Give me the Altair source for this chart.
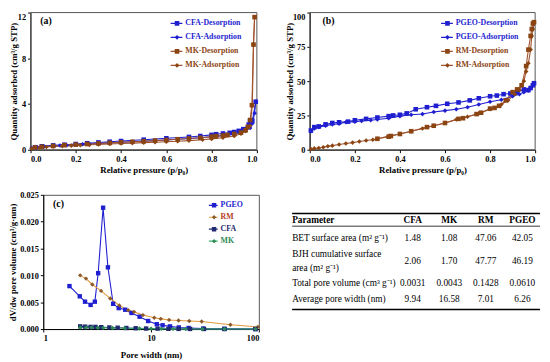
import altair as alt
import pandas as pd

FONT = "Liberation Serif"

# ---------------- panel (a) data ----------------
a_names = ["CFA-Desorption", "CFA-Adsorption", "MK-Desorption", "MK-Adsorption"]
cfa_des_p = [0.995, 0.98, 0.97, 0.964, 0.94, 0.92, 0.9, 0.88, 0.85, 0.82, 0.8, 0.75, 0.7, 0.6, 0.5, 0.4, 0.35, 0.3, 0.25, 0.2, 0.15, 0.1, 0.05, 0.02]
cfa_des_q = [4.2, 2.55, 2.5, 2.2, 1.8, 1.65, 1.55, 1.48, 1.42, 1.36, 1.3, 1.2, 1.12, 1.0, 0.88, 0.76, 0.7, 0.64, 0.57, 0.5, 0.44, 0.38, 0.3, 0.22]
cfa_ads_p = [0.005, 0.03, 0.06, 0.1, 0.13, 0.16, 0.2, 0.23, 0.26, 0.3, 0.35, 0.4, 0.45, 0.5, 0.55, 0.6, 0.65, 0.7, 0.75, 0.8, 0.85, 0.9, 0.93, 0.95, 0.97, 0.98, 0.99, 0.995]
cfa_ads_q = [0.15, 0.22, 0.28, 0.33, 0.37, 0.4, 0.45, 0.48, 0.51, 0.55, 0.6, 0.65, 0.7, 0.75, 0.8, 0.86, 0.92, 0.98, 1.05, 1.13, 1.22, 1.35, 1.5, 1.65, 1.9, 2.3, 3.2, 4.2]
mk_des_p = [0.99, 0.985, 0.978, 0.97, 0.96, 0.95, 0.93, 0.9, 0.87, 0.85, 0.82, 0.8, 0.75, 0.7, 0.65, 0.6, 0.55, 0.5, 0.45, 0.4, 0.35, 0.3, 0.25, 0.2, 0.15, 0.1, 0.05, 0.02]
mk_des_q = [11.6, 9.2, 3.9, 2.6, 2.0, 1.7, 1.5, 1.38, 1.3, 1.25, 1.2, 1.15, 1.05, 0.98, 0.92, 0.86, 0.8, 0.75, 0.7, 0.65, 0.6, 0.55, 0.5, 0.45, 0.4, 0.33, 0.26, 0.2]
mk_ads_p = [0.005, 0.04, 0.07, 0.1, 0.14, 0.18, 0.22, 0.26, 0.3, 0.35, 0.4, 0.45, 0.5, 0.55, 0.6, 0.65, 0.7, 0.76, 0.8, 0.85, 0.9, 0.93, 0.95, 0.97, 0.98, 0.985, 0.99]
mk_ads_q = [0.1, 0.18, 0.24, 0.28, 0.32, 0.36, 0.4, 0.43, 0.46, 0.5, 0.54, 0.58, 0.62, 0.66, 0.7, 0.75, 0.8, 0.88, 0.95, 1.05, 1.2, 1.4, 1.65, 2.1, 3.9, 9.2, 11.6]

# ---------------- panel (b) data ----------------
b_names = ["PGEO-Desorption", "PGEO-Adsorption", "RM-Desorption", "RM-Adsorption"]
pgeo_des_p = [0.995, 0.99, 0.98, 0.97, 0.95, 0.92, 0.89, 0.86, 0.83, 0.8, 0.75, 0.71, 0.66, 0.61, 0.56, 0.52, 0.47, 0.43, 0.4, 0.37, 0.35, 0.3, 0.25, 0.2, 0.17, 0.13, 0.1, 0.07, 0.04, 0.02, 0.005]
pgeo_des_q = [48.5, 47, 45, 43.5, 44, 42, 41, 40.5, 39.5, 39, 37.5, 36, 34.5, 33.5, 32, 31, 29.5, 26.5, 25.5, 25, 24.5, 23.5, 22.5, 21.5, 20.5, 20, 19.5, 18.5, 17, 16.5, 14]
pgeo_ads_p = [0.005, 0.02, 0.04, 0.07, 0.1, 0.13, 0.16, 0.2, 0.23, 0.27, 0.3, 0.35, 0.4, 0.45, 0.5, 0.55, 0.6, 0.65, 0.7, 0.75, 0.8, 0.85, 0.9, 0.93, 0.95, 0.97, 0.98, 0.99, 0.995]
pgeo_ads_q = [13.5, 15.5, 16.5, 17.5, 18.5, 19, 20, 20.5, 21, 21.5, 22, 23, 24.5, 25.5, 26, 27.5, 28.5, 29.5, 31, 33, 35, 36.5, 39, 40.5, 42, 43, 45, 47, 48.5]
rm_des_p = [0.995, 0.99, 0.985, 0.98, 0.97, 0.96, 0.94, 0.92, 0.9, 0.87, 0.84, 0.82, 0.8, 0.76, 0.74, 0.68, 0.66, 0.6, 0.55, 0.52, 0.45, 0.4, 0.36, 0.35, 0.3]
rm_des_q = [93, 92, 88, 83, 73, 61, 47, 44, 42, 36, 32, 30.5, 30, 27, 26, 23, 22.5, 19.5, 17.5, 16.5, 13.5, 11.5, 10, 9.5, 8]
rm_ads_p = [0.005, 0.02, 0.04, 0.06, 0.08, 0.1, 0.13, 0.16, 0.19, 0.22, 0.25, 0.28, 0.3, 0.35, 0.4, 0.45, 0.5, 0.55, 0.6, 0.65, 0.7, 0.75, 0.8, 0.85, 0.88, 0.91, 0.93, 0.95, 0.96, 0.97, 0.98, 0.985, 0.99, 0.995]
rm_ads_q = [0.5, 1, 1.3, 1.8, 2.5, 3, 3.8, 4.5, 5.2, 6, 6.7, 7.3, 8, 10, 11.5, 13.5, 15.5, 17.5, 19.5, 22, 24, 26.5, 29.5, 33, 36, 40.5, 43.5, 50, 57, 63, 73, 83, 88, 93]

# ---------------- panel (c) data ----------------
c_names = ["PGEO", "RM", "CFA", "MK"]
pgeo_w = [1.75, 2.18, 2.44, 2.75, 3.01, 3.23, 3.59, 3.98, 4.45, 5.01, 5.76, 6.58, 7.83, 9.4, 11.3, 12.8, 15.0, 18.1, 22.3, 30.5, 48, 93]
pgeo_v = [0.0080, 0.0061, 0.0051, 0.0045, 0.0051, 0.0104, 0.0226, 0.0115, 0.0047, 0.0039, 0.0036, 0.0030, 0.0023, 0.0015, 0.0009, 0.0007, 0.0005, 0.0003, 0.0002, 0.0001, 0.00005, 0.0]
rm_w = [2.2, 2.49, 2.85, 3.44, 4.18, 5.08, 6.14, 6.95, 8.4, 10.7, 12.3, 14.7, 18.0, 22.6, 29.5, 54.5, 98]
rm_v = [0.0100, 0.0094, 0.0083, 0.0071, 0.0057, 0.0044, 0.0035, 0.0032, 0.0026, 0.0021, 0.0019, 0.0017, 0.0016, 0.0015, 0.0014, 0.0008, 0.0004]
cfa_w = [2.2, 2.45, 2.75, 3.05, 3.45, 4.1, 4.9, 5.9, 7.2, 9.0, 11.5, 14.5, 18, 23, 31, 48, 93]
cfa_v = [0.0005, 0.00045, 0.0004, 0.0004, 0.00035, 0.0003, 0.00025, 0.0002, 0.00015, 0.0001, 0.00008, 0.00005, 0.00003, 0.00002, 0.00001, 0.0, 0.0]
mk_w = [2.2, 2.5, 2.8, 3.2, 3.6, 4.4, 5.7, 7.8, 10, 12.5, 16, 21, 30, 48, 93]
mk_v = [0.0003, 0.0003, 0.00028, 0.00025, 0.00022, 0.0002, 0.00015, 0.0001, 0.00008, 0.00005, 0.00003, 0.00002, 0.00001, 0.0, 0.0]

# ---------------- table data ----------------
tbl_cols = ["CFA", "MK", "RM", "PGEO"]
tbl_params = ["BET surface area (m² g⁻¹)", "BJH cumulative surface\narea (m² g⁻¹)",
              "Total pore volume (cm³ g⁻¹)", "Average pore width (nm)"]
tbl_cfa = ["1.48", "2.06", "0.0031", "9.94"]
tbl_mk = ["1.08", "1.70", "0.0043", "16.58"]
tbl_rm = ["47.06", "47.77", "0.1428", "7.01"]
tbl_pgeo = ["42.05", "46.19", "0.0610", "6.26"]

# ---------------- style ----------------
BLUE = "#1f1fd0"
BROWN = "#8b4513"
SIENNA = "#a0522d"
NAVY = "#1f2a70"
GREEN = "#2e8b57"
FRAME = "#555555"


def label_color_expr(names, colors):
    expr = "'black'"
    for n, c in zip(reversed(names), reversed(colors)):
        expr = f"datum.label == '{n}' ? '{c}' : ({expr})"
    return alt.ExprRef(expr=expr)


def isotherm(series, names, line_cols, fill_cols, shapes, lab_cols, ymax, yvals,
             ytitle, tag, tag_x, leg_x, leg_y, ytitle_x, width, shift):
    """shift: pixels by which the plotting area extends left of the view origin."""
    rows = []
    for name, ps, qs in series:
        for p, q in zip(ps, qs):
            rows.append({"p": p, "q": q, "s": name, "m": name})
    df = pd.DataFrame(rows)
    xscale = alt.Scale(domain=[0, 1], nice=False, range=[-shift, width])
    yscale = alt.Scale(domain=[0, ymax], nice=False)
    xaxis = alt.Axis(values=[0, 0.2, 0.4, 0.6, 0.8, 1.0], format=".1f", labelOverlap=False,
                     title="Relative pressure (p/p₀)", titlePadding=3)
    yaxis = alt.Axis(values=yvals, title=ytitle, titleX=ytitle_x, titleBaseline="bottom",
                     offset=shift, labelOverlap=False,
                     labelBaseline={"condition": {"test": f"datum.value == {ymax}", "value": "top"},
                                    "value": "middle"})
    x = alt.X("p:Q", scale=xscale, axis=xaxis)
    y = alt.Y("q:Q", scale=yscale, axis=yaxis)
    frame = alt.Chart(pd.DataFrame({"k": [0]})).mark_rect(
        fillOpacity=0, stroke=FRAME, strokeWidth=1).encode(
        x=alt.XDatum(0, type="quantitative", scale=xscale, axis=xaxis), x2=alt.X2Datum(1),
        y=alt.YDatum(0, type="quantitative", scale=yscale, axis=yaxis), y2=alt.Y2Datum(ymax))
    line = alt.Chart(df).mark_line(strokeWidth=1.1).encode(
        x=x, y=y,
        stroke=alt.Stroke("s:N", scale=alt.Scale(domain=names, range=line_cols),
                          legend=alt.Legend(orient="none", legendX=leg_x, legendY=leg_y, title=None,
                                            symbolType="stroke", symbolSize=144, symbolStrokeWidth=1.2,
                                            labelFontSize=8, labelOffset=2, rowPadding=2.3, clipHeight=12,
                                            labelColor=label_color_expr(names, lab_cols))))
    leg2 = alt.Legend(orient="none", legendX=leg_x + 3.5, legendY=leg_y, title=None,
                      symbolSize=22, symbolStrokeWidth=0, labelFontSize=8, labelOffset=2,
                      rowPadding=2.3, clipHeight=12, labelExpr="''")
    pts = alt.Chart(df).mark_point(filled=True, size=22, opacity=1, strokeWidth=0).encode(
        x=x, y=y,
        fill=alt.Fill("m:N", scale=alt.Scale(domain=names, range=fill_cols), legend=leg2),
        shape=alt.Shape("m:N", scale=alt.Scale(domain=names, range=shapes), legend=leg2))
    tag_c = alt.Chart(pd.DataFrame({"t": [tag]})).mark_text(
        font=FONT, fontSize=10, fontWeight="bold", align="left", baseline="middle").encode(
        text="t:N", x=alt.value(tag_x), y=alt.value(9))
    return alt.layer(frame, line, pts, tag_c).properties(
        width=width, height=140, view=alt.ViewBackground(stroke="transparent")).resolve_scale(
        stroke="independent", fill="independent", shape="independent")


SHIFT_A = 13
panel_a = isotherm(
    [("CFA-Desorption", cfa_des_p, cfa_des_q), ("CFA-Adsorption", cfa_ads_p, cfa_ads_q),
     ("MK-Desorption", mk_des_p, mk_des_q), ("MK-Adsorption", mk_ads_p, mk_ads_q)],
    a_names, [BLUE, BLUE, SIENNA, SIENNA], [BLUE, BLUE, BROWN, BROWN],
    ["square", "diamond", "square", "diamond"], [BLUE, BLUE, BROWN, BROWN],
    12, [0, 4, 8, 12], "Quantity adsorbed (cm³/g STP)", "(a)", 10 - SHIFT_A, 142 - SHIFT_A, 5, -12,
    231 - SHIFT_A, SHIFT_A)

panel_b = isotherm(
    [("PGEO-Desorption", pgeo_des_p, pgeo_des_q), ("PGEO-Adsorption", pgeo_ads_p, pgeo_ads_q),
     ("RM-Desorption", rm_des_p, rm_des_q), ("RM-Adsorption", rm_ads_p, rm_ads_q)],
    b_names, [BLUE, BLUE, SIENNA, SIENNA], [BLUE, BLUE, BROWN, BROWN],
    ["square", "diamond", "square", "diamond"], [BLUE, BLUE, BROWN, BROWN],
    100, [0, 25, 50, 75, 100], "Quantity adsorbed  (cm³/g STP)", "(b)", 13, 133, 5, -16, 230, 0)

# ---------------- panel (c) ----------------
rows_c = []
for name, ws, vs in [("PGEO", pgeo_w, pgeo_v), ("RM", rm_w, rm_v), ("CFA", cfa_w, cfa_v), ("MK", mk_w, mk_v)]:
    for w, v in zip(ws, vs):
        rows_c.append({"w": w, "v": v, "s": name, "m": name})
df_c = pd.DataFrame(rows_c)
xc = alt.X("w:Q", scale=alt.Scale(type="log", domain=[1, 100], nice=False),
           axis=alt.Axis(values=[1, 10, 100], format="d", title="Pore width (nm)", titlePadding=9,
                         labelOverlap=False))
yc = alt.Y("v:Q", scale=alt.Scale(domain=[0, 0.025], nice=False),
           axis=alt.Axis(values=[0, 0.005, 0.01, 0.015, 0.02, 0.025], format=".3f", labelOverlap=False,
                         title="dV/dw pore volume (cm³/g·nm)", titleX=-26, titleBaseline="bottom"))
c_line_cols = [BLUE, "#e39a3b", NAVY, "#3cb371"]
c_fill_cols = [BLUE, "#8b5a2b", NAVY, GREEN]
c_lab_cols = [BLUE, "#b5401f", NAVY, GREEN]
line_c = alt.Chart(df_c).mark_line(strokeWidth=1.1).encode(
    x=xc, y=yc,
    stroke=alt.Stroke("s:N", scale=alt.Scale(domain=c_names, range=c_line_cols),
                      legend=alt.Legend(orient="none", legendX=168, legendY=5.7, title=None,
                                        symbolType="stroke", symbolSize=81, symbolStrokeWidth=1.2,
                                        labelFontSize=8, labelOffset=2, rowPadding=2.2, clipHeight=10,
                                        labelColor=label_color_expr(c_names, c_lab_cols))))
leg_c2 = alt.Legend(orient="none", legendX=170.3, legendY=5.7, title=None,
                    symbolSize=20, symbolStrokeWidth=0, labelFontSize=8, labelOffset=2,
                    rowPadding=2.2, clipHeight=10, labelExpr="''")
pts_c = alt.Chart(df_c).mark_point(filled=True, size=20, opacity=1, strokeWidth=0).encode(
    x=xc, y=yc,
    fill=alt.Fill("m:N", scale=alt.Scale(domain=c_names, range=c_fill_cols), legend=leg_c2),
    shape=alt.Shape("m:N", scale=alt.Scale(domain=c_names, range=["square", "diamond", "square", "diamond"]),
                    legend=leg_c2))
tag_c = alt.Chart(pd.DataFrame({"t": ["(c)"]})).mark_text(
    font=FONT, fontSize=10, fontWeight="bold", align="left", baseline="middle").encode(
    text="t:N", x=alt.value(10), y=alt.value(9))
panel_c = alt.layer(line_c, pts_c, tag_c).properties(width=220, height=137).resolve_scale(
    stroke="independent", fill="independent", shape="independent")

# ---------------- table ----------------
TX0 = -18                                # table starts left of its (aligned) view origin
param_y = [26, 44, 60, 90, 106]          # header + 4 rows (first text line)
value_y = [26, 44, 67.5, 90, 106]
rule_y = [19, 32, 117]
rule_w = [1.6, 0.8, 1.6]
param_df = pd.DataFrame({"t": ["Parameter"] + tbl_params, "ypos": param_y,
                         "bold": [True, False, False, False, False]})
cells = []
for ci, col in enumerate(tbl_cols):
    vals = [tbl_cfa, tbl_mk, tbl_rm, tbl_pgeo][ci]
    cells.append({"col": col, "t": col, "ypos": value_y[0], "hdr": 1})
    for ri, v in enumerate(vals):
        cells.append({"col": col, "t": v, "ypos": value_y[ri + 1], "hdr": 0})
cells_df = pd.DataFrame(cells)
ty = alt.Y("ypos:Q", scale=alt.Scale(domain=[0, 137], range=[0, 137]), axis=None)
tx = alt.X("col:N", scale=alt.Scale(domain=tbl_cols, range=[TX0 + 123, TX0 + 235], padding=0), axis=None)
p_hdr = alt.Chart(param_df[param_df.bold]).mark_text(
    font=FONT, fontSize=9.5, fontWeight="bold", align="left", baseline="middle").encode(
    text="t:N", y=ty, x=alt.value(TX0))
p_body = alt.Chart(param_df[~param_df.bold]).mark_text(
    font=FONT, fontSize=9.5, align="left", baseline="middle", lineBreak="\n", lineHeight=15).encode(
    text="t:N", y=ty, x=alt.value(TX0))
c_hdr = alt.Chart(cells_df[cells_df.hdr == 1]).mark_text(
    font=FONT, fontSize=9.5, fontWeight="bold", align="center", baseline="middle").encode(
    text="t:N", y=ty, x=tx)
c_body = alt.Chart(cells_df[cells_df.hdr == 0]).mark_text(
    font=FONT, fontSize=9.5, align="center", baseline="middle").encode(
    text="t:N", y=ty, x=tx)
rules = alt.Chart(pd.DataFrame({"ypos": rule_y, "w": rule_w})).mark_rule(color="black").encode(
    y=ty, x=alt.value(TX0), x2=alt.value(TX0 + 253), strokeWidth=alt.StrokeWidth("w:Q", scale=None))
table = alt.layer(rules, p_hdr, p_body, c_hdr, c_body).properties(
    width=TX0 + 253, height=137, view=alt.ViewBackground(stroke="transparent"))

chart = alt.concat(
    panel_a, panel_b, panel_c, table, columns=2,
    spacing={"row": 15, "column": 14}
).resolve_scale(
    x="independent", y="independent", stroke="independent", fill="independent", shape="independent"
).properties(padding={"left": 0, "top": 0, "right": 0, "bottom": 0}).configure_axis(
    labelFont=FONT, labelFontSize=8.5, labelFontWeight="bold", labelColor="black",
    titleFont=FONT, titleFontSize=9, titleFontWeight="bold", titleColor="black",
    tickSize=3, tickColor="black", domainColor="black", grid=False, labelPadding=2
).configure_legend(labelFont=FONT, labelFontWeight="bold", padding=0, titlePadding=0
).configure_view(stroke=FRAME)

chart.save("out.html", embed_options={"renderer": "svg", "actions": False})
